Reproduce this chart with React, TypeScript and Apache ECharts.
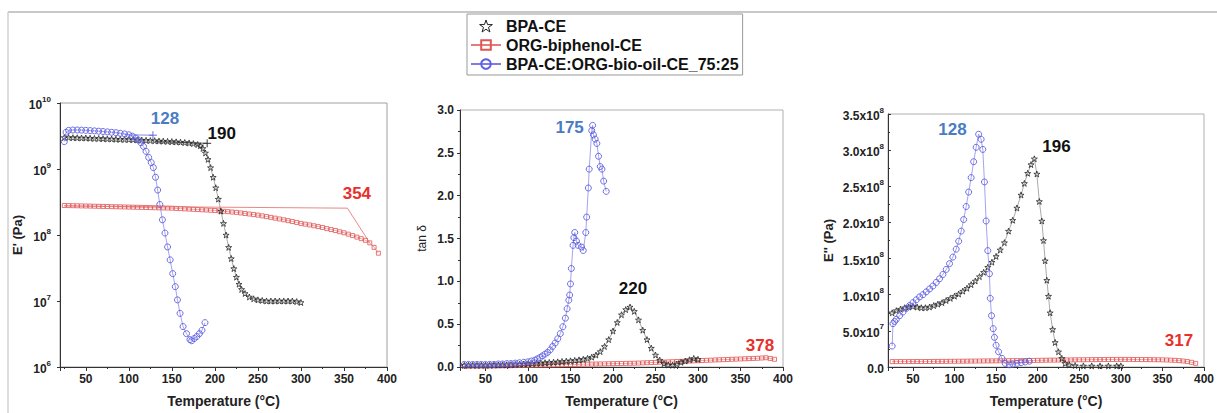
import React, { useEffect, useRef } from "react";
import * as echarts from "echarts";

// ---------- Panel 1: storage modulus E' (Pa), log scale ----------
const ep_bpa_T = [25,30,35,40,45,50,55,60,65,70,75,80,85,90,95,100,105,110,115,120,125,130,135,140,145,150,155,160,165,170,175,180,183,186,189,192,195,198,201,204,207,210,213,216,219,222,225,228,231,235,240,245,250,255,260,265,270,275,280,285,290,295,300];
const ep_bpa_V = [3.0e9,3.0e9,2.98e9,2.97e9,2.95e9,2.95e9,2.93e9,2.9e9,2.9e9,2.88e9,2.86e9,2.85e9,2.83e9,2.82e9,2.8e9,2.8e9,2.78e9,2.76e9,2.74e9,2.72e9,2.7e9,2.68e9,2.66e9,2.64e9,2.62e9,2.6e9,2.58e9,2.55e9,2.52e9,2.48e9,2.43e9,2.35e9,2.25e9,2.05e9,1.75e9,1.4e9,1.05e9,7.5e8,5.2e8,3.5e8,2.3e8,1.5e8,1.0e8,6.5e7,4.4e7,3.1e7,2.3e7,1.8e7,1.5e7,1.3e7,1.15e7,1.08e7,1.04e7,1.02e7,1.0e7,1.0e7,1.0e7,1.0e7,1.0e7,1.0e7,1.0e7,9.8e6,9.5e6];

const ep_org_T = [25,30,35,40,45,50,55,60,65,70,75,80,85,90,95,100,105,110,115,120,125,130,135,140,145,150,155,160,165,170,175,180,185,190,195,200,205,210,215,220,225,230,235,240,245,250,255,260,265,270,275,280,285,290,295,300,305,310,315,320,325,330,335,340,345,350,355,360,365,370,375,380,385,390];
const ep_org_V = [2.8e8,2.79e8,2.78e8,2.77e8,2.76e8,2.75e8,2.74e8,2.73e8,2.72e8,2.71e8,2.7e8,2.69e8,2.68e8,2.67e8,2.66e8,2.65e8,2.64e8,2.63e8,2.62e8,2.61e8,2.6e8,2.59e8,2.58e8,2.57e8,2.56e8,2.55e8,2.53e8,2.51e8,2.49e8,2.47e8,2.45e8,2.43e8,2.41e8,2.39e8,2.37e8,2.35e8,2.32e8,2.29e8,2.26e8,2.23e8,2.2e8,2.16e8,2.12e8,2.08e8,2.04e8,2.0e8,1.95e8,1.9e8,1.85e8,1.8e8,1.75e8,1.7e8,1.65e8,1.6e8,1.55e8,1.5e8,1.46e8,1.42e8,1.38e8,1.34e8,1.3e8,1.25e8,1.21e8,1.17e8,1.12e8,1.08e8,1.03e8,9.8e7,9.3e7,8.8e7,8.3e7,7.6e7,6.5e7,5.3e7];

const ep_mix_T = [25,27,30,35,40,45,50,55,60,65,70,75,80,85,90,95,100,104,108,111,114,117,120,123,126,128.5,131,133.5,136,139,142,145,148,151,154,156.5,159.5,163,167,171,173,176,179,182,185,188.5];
const ep_mix_V = [2.6e9,3.6e9,3.85e9,3.9e9,3.9e9,3.88e9,3.85e9,3.82e9,3.78e9,3.74e9,3.7e9,3.65e9,3.6e9,3.55e9,3.48e9,3.4e9,3.3e9,3.15e9,2.95e9,2.75e9,2.5e9,2.2e9,1.85e9,1.5e9,1.25e9,1.05e9,7.5e8,4.8e8,2.9e8,1.7e8,1.07e8,6.6e7,4.2e7,2.6e7,1.65e7,1.04e7,6.5e6,4.1e6,3.2e6,2.6e6,2.5e6,2.7e6,2.9e6,3.2e6,3.6e6,4.7e6];

// onset tangent constructions
const tan_org_T = [25, 354, 380];
const tan_org_V = [2.75e8, 2.55e8, 7.6e7];
const tan_bpa_T = [130, 191];
const tan_bpa_V = [2.6e9, 2.45e9];
const tan_mix_T = [95, 128];
const tan_mix_V = [3.3e9, 3.25e9];

// ---------- Panel 2: tan delta ----------
const td_bpa_T = [25,30,35,40,45,50,55,60,65,70,75,80,85,90,95,100,105,110,115,120,125,130,135,140,145,150,155,160,165,170,175,180,185,190,195,200,205,210,215,220,225,230,235,240,245,250,255,260,265,270,275,280,285,290,295,300];
const td_bpa_V = [0.02,0.02,0.02,0.02,0.02,0.02,0.02,0.022,0.024,0.025,0.026,0.028,0.03,0.032,0.035,0.038,0.04,0.043,0.046,0.05,0.053,0.056,0.06,0.064,0.068,0.072,0.077,0.083,0.09,0.1,0.115,0.14,0.18,0.24,0.32,0.42,0.52,0.61,0.67,0.7,0.65,0.55,0.43,0.32,0.22,0.14,0.08,0.04,0.025,0.02,0.035,0.055,0.07,0.085,0.1,0.09];

const td_org_T = [25,30,35,40,45,50,55,60,65,70,75,80,85,90,95,100,105,110,115,120,125,130,135,140,145,150,155,160,165,170,175,180,185,190,195,200,205,210,215,220,225,230,235,240,245,250,255,260,265,270,275,280,285,290,295,300,305,310,315,320,325,330,335,340,345,350,355,360,365,370,375,380,385,390];
const td_org_V = [0.01,0.01,0.011,0.01,0.011,0.012,0.012,0.013,0.013,0.014,0.015,0.015,0.016,0.017,0.018,0.019,0.02,0.021,0.022,0.023,0.024,0.025,0.026,0.027,0.028,0.029,0.03,0.031,0.032,0.033,0.034,0.035,0.036,0.037,0.038,0.039,0.04,0.041,0.042,0.043,0.044,0.046,0.048,0.05,0.052,0.054,0.056,0.058,0.06,0.062,0.064,0.066,0.068,0.07,0.072,0.074,0.076,0.078,0.08,0.082,0.084,0.086,0.088,0.09,0.092,0.094,0.096,0.098,0.1,0.102,0.105,0.108,0.1,0.09];

const td_mix_T = [25,30,35,40,45,50,55,60,65,70,75,80,85,90,95,100,104,108,111,114,117,120,123,126,129,132,135,138,141,144,146,148,149,150,151,153,154,155,157,159,163,165,168,169,171,172,175,176,177,179,181,183,185,187,189,192];
const td_mix_V = [0.03,0.03,0.03,0.03,0.03,0.03,0.03,0.03,0.035,0.035,0.04,0.04,0.045,0.05,0.055,0.06,0.07,0.08,0.095,0.11,0.13,0.15,0.17,0.2,0.24,0.28,0.33,0.39,0.47,0.57,0.68,0.78,0.84,0.97,1.15,1.42,1.51,1.57,1.47,1.42,1.4,1.36,1.57,1.75,2.09,2.31,2.76,2.82,2.71,2.66,2.61,2.46,2.34,2.31,2.17,2.05];

// ---------- Panel 3: loss modulus E'' (Pa) ----------
const el_bpa_T = [25,30,35,40,45,50,55,60,65,70,75,80,85,90,95,100,105,110,115,120,125,130,135,140,145,150,155,160,165,170,175,180,184,188,192,196,199,202,205,207,209,211,213,215,218,221,225,229,233,238,245,255,265,275,285,295,300];
const el_bpa_V = [7.5e7,7.8e7,8.0e7,8.2e7,8.3e7,8.4e7,8.3e7,8.2e7,8.2e7,8.3e7,8.5e7,8.7e7,8.9e7,9.2e7,9.5e7,9.8e7,1.01e8,1.05e8,1.09e8,1.14e8,1.19e8,1.25e8,1.31e8,1.38e8,1.45e8,1.53e8,1.62e8,1.72e8,1.88e8,2.03e8,2.2e8,2.38e8,2.54e8,2.68e8,2.8e8,2.88e8,2.67e8,2.29e8,2.02e8,1.75e8,1.47e8,1.2e8,9.8e7,7.5e7,5.2e7,3.4e7,2.1e7,1.2e7,5e6,3e6,2e6,1.5e6,1.5e6,1.5e6,1.5e6,1.5e6,1.5e6];

const el_org_T = [25,30,35,40,45,50,55,60,65,70,75,80,85,90,95,100,105,110,115,120,125,130,135,140,145,150,155,160,165,170,175,180,185,190,195,200,205,210,215,220,225,230,235,240,245,250,255,260,265,270,275,280,285,290,295,300,305,310,315,320,325,330,335,340,345,350,355,360,365,370,375,380,385,390];
const el_org_V = [7.5e6,7.4e6,7.5e6,7.4e6,7.5e6,7.5e6,7.6e6,7.5e6,7.6e6,7.6e6,7.7e6,7.7e6,7.8e6,7.8e6,7.9e6,7.9e6,8.0e6,8.0e6,8.1e6,8.2e6,8.2e6,8.3e6,8.4e6,8.4e6,8.5e6,8.5e6,8.6e6,8.6e6,8.7e6,8.8e6,8.8e6,8.9e6,9.0e6,9.0e6,9.1e6,9.2e6,9.3e6,9.4e6,9.5e6,9.5e6,9.6e6,9.7e6,9.8e6,9.8e6,9.9e6,1.0e7,1.0e7,1.01e7,1.02e7,1.02e7,1.03e7,1.03e7,1.04e7,1.04e7,1.05e7,1.05e7,1.05e7,1.05e7,1.04e7,1.04e7,1.03e7,1.03e7,1.02e7,1.01e7,1.0e7,9.9e6,9.7e6,9.5e6,9.2e6,8.8e6,8.3e6,7.5e6,6.5e6,5.0e6];

const el_mix_T = [25,26,28,30,34,38,42,46,50,54,58,62,66,70,74,78,82,86,90,94,98,102,105,108,111,114,117,120,123,126,129,132,134,136,138,140,142,143,144.5,146.5,148,150,153,157,161,166,170,175,180,185,190];
const el_mix_V = [2.9e7,6.0e7,6.3e7,6.6e7,7.1e7,7.6e7,8.1e7,8.5e7,8.9e7,9.3e7,9.7e7,1.0e8,1.04e8,1.08e8,1.12e8,1.17e8,1.22e8,1.28e8,1.35e8,1.43e8,1.52e8,1.63e8,1.74e8,1.88e8,2.04e8,2.22e8,2.42e8,2.62e8,2.84e8,3.04e8,3.22e8,3.15e8,3.01e8,2.56e8,2.02e8,1.61e8,1.29e8,9.5e7,7.1e7,5.3e7,4.1e7,3.0e7,2.1e7,1.2e7,5e6,3e6,4e6,5e6,6e6,7e6,8e6];

// ---------- Peak / onset annotations [text, T, value] ----------
const ep_labels_bpa = ["190", 208, 3.5e9];
const ep_labels_org = ["354", 365, 4.2e8];
const ep_labels_mix = ["128", 142, 5.9e9];
const td_labels_bpa = ["220", 223.5, 0.915];
const td_labels_org = ["378", 373, 0.255];
const td_labels_mix = ["175", 149, 2.8];
const el_labels_bpa = ["196", 222.6, 3.05e8];
const el_labels_org = ["317", 370, 3.66e7];
const el_labels_mix = ["128", 97.5, 3.28e8];

const seriesNames = ["BPA-CE", "ORG-biphenol-CE", "BPA-CE:ORG-bio-oil-CE_75:25"];
const xTickValues = [50, 100, 150, 200, 250, 300, 350, 400];

const FONT = "'Liberation Sans', Arial, Helvetica, sans-serif";
const STAR = "path://M50,2L61.8,36.2L97.6,36.2L68.6,57.4L79.4,91.6L50,70.6L20.6,91.6L31.4,57.4L2.4,36.2L38.2,36.2Z";
const PLUS = "path://M0,5L10,5M5,0L5,10";

const C_BLACK = "#262626";
const C_RED = "#e05656";
const C_BLUE = "#5e5ee0";
const A_BLACK = "#111111";
const A_RED = "#e8302a";
const A_BLUE = "#4a7cc4";

const zip = (T: number[], V: number[]) => T.map((t, i) => [t, V[i]]);

function styleFor(k: number) {
  if (k === 0)
    return {
      symbol: STAR,
      symbolSize: 6,
      itemStyle: { color: "rgba(255,255,255,0)", borderColor: C_BLACK, borderWidth: 0.8 },
      lineStyle: { color: "#555", width: 0.5 },
    };
  if (k === 1)
    return {
      symbol: "rect",
      symbolSize: 4,
      itemStyle: { color: "rgba(255,255,255,0)", borderColor: C_RED, borderWidth: 0.8 },
      lineStyle: { color: "#e87a7a", width: 0.7 },
    };
  return {
    symbol: "circle",
    symbolSize: 6,
    itemStyle: { color: "rgba(255,255,255,0)", borderColor: C_BLUE, borderWidth: 0.9 },
    lineStyle: { color: "#7c7ce8", width: 0.7 },
  };
}

function mark(label: any[], color: string) {
  return {
    silent: true,
    symbol: "circle",
    symbolSize: 1,
    itemStyle: { color: "rgba(0,0,0,0)" },
    label: {
      show: true,
      position: "inside",
      formatter: String(label[0]),
      color,
      fontSize: 17,
      fontWeight: "bold",
      fontFamily: FONT,
    },
    data: [{ coord: [label[1], label[2]] }],
  };
}

function dataSeries(panel: number, k: number, T: number[], V: number[], label: any[]) {
  const color = k === 0 ? A_BLACK : k === 1 ? A_RED : A_BLUE;
  return {
    name: seriesNames[k],
    type: "line",
    xAxisIndex: panel,
    yAxisIndex: panel,
    data: zip(T, V),
    showSymbol: true,
    z: k === 2 ? 4 : k === 0 ? 3 : 2,
    ...styleFor(k),
    markPoint: mark(label, color),
  };
}

function tangent(T: number[], V: number[], color: string, endPlus: boolean) {
  return {
    name: "tangent",
    type: "line",
    xAxisIndex: 0,
    yAxisIndex: 0,
    data: zip(T, V),
    symbol: (_v: any, p: any) => (endPlus && p.dataIndex === T.length - 1 ? PLUS : "none"),
    symbolSize: 8,
    itemStyle: { color: "rgba(0,0,0,0)", borderColor: color, borderWidth: 1 },
    lineStyle: { color, width: 0.8 },
    z: 5,
  };
}

const labelBase = { fontSize: 12, fontWeight: "bold", color: "#222", fontFamily: FONT };

function xAxis(gridIndex: number) {
  return {
    type: "value",
    gridIndex,
    min: 20,
    max: 400,
    splitNumber: 8,
    name: "Temperature (°C)",
    nameLocation: "middle",
    nameGap: 27,
    nameTextStyle: { fontSize: 14, fontWeight: "bold", color: "#222", fontFamily: FONT },
    axisLine: { lineStyle: { color: "#333", width: 1 } },
    axisTick: { show: true, length: 4, lineStyle: { color: "#333" } },
    minorTick: { show: true, splitNumber: 2, length: 2, lineStyle: { color: "#333" } },
    splitLine: { show: false },
    axisLabel: {
      ...labelBase,
      margin: 6,
      showMinLabel: false,
      formatter: (v: number) => (xTickValues.indexOf(v) >= 0 ? String(v) : ""),
    },
  };
}

const sci = (v: number) => {
  if (v === 0) return "{b|0.0}";
  const e = Math.floor(Math.log10(v) + 1e-9);
  const m = v / Math.pow(10, e);
  return `{b|${m.toFixed(1)}x10}{s|${e}}`;
};

const richSup = {
  b: { ...labelBase, lineHeight: 16, verticalAlign: "bottom" },
  s: { fontSize: 8, fontWeight: "bold", color: "#222", fontFamily: FONT, lineHeight: 16, verticalAlign: "top" },
};

export default function App() {
  const ref = useRef<HTMLDivElement>(null);

  useEffect(() => {
    if (!ref.current) return;
    const chart = echarts.init(ref.current, null, { renderer: "svg" });

    const option: any = {
      animation: false,
      backgroundColor: "#ffffff",
      textStyle: { fontFamily: FONT },
      legend: {
        orient: "vertical",
        left: 467,
        top: 14,
        padding: [4, 4, 3, 3],
        itemGap: 3,
        itemWidth: 30,
        itemHeight: 12,
        borderColor: "#999",
        borderWidth: 1,
        textStyle: { fontSize: 16, fontWeight: "bold", color: "#111", fontFamily: FONT },
        data: [
          {
            name: seriesNames[0],
            icon: STAR,
            lineStyle: { opacity: 0 },
            itemStyle: { color: "rgba(255,255,255,0)", borderColor: "#222", borderWidth: 1 },
          },
          { name: seriesNames[1] },
          { name: seriesNames[2] },
        ],
      },
      grid: [
        { left: 60, top: 103, width: 327, height: 264, show: true, borderColor: "#a0a0a0", borderWidth: 1 },
        { left: 460, top: 110, width: 323, height: 259, show: true, borderColor: "#b0b0b0", borderWidth: 1 },
        { left: 888, top: 114, width: 319, height: 258, show: true, borderColor: "#b0b0b0", borderWidth: 1 },
      ],
      xAxis: [xAxis(0), xAxis(1), xAxis(2)],
      yAxis: [
        {
          type: "log",
          gridIndex: 0,
          logBase: 10,
          min: 1e6,
          max: 1e10,
          interval: 1,
          name: "E' (Pa)",
          nameLocation: "middle",
          nameGap: 36,
          nameTextStyle: { fontSize: 13, fontWeight: "bold", color: "#222", fontFamily: FONT },
          axisLine: { show: true, lineStyle: { color: "#333" } },
          axisTick: { show: true, length: 3, lineStyle: { color: "#333" } },
          splitLine: { show: false },
          axisLabel: {
            margin: 9,
            formatter: (v: number) => `{b|10}{s|${Math.round(Math.log10(v))}}`,
            rich: richSup,
          },
        },
        {
          type: "value",
          gridIndex: 1,
          min: 0,
          max: 3,
          interval: 0.5,
          name: "tan δ",
          nameLocation: "middle",
          nameGap: 32,
          nameTextStyle: { fontSize: 12, color: "#222", fontFamily: FONT },
          axisLine: { show: true, lineStyle: { color: "#333" } },
          axisTick: { show: true, length: 3, lineStyle: { color: "#333" } },
          minorTick: { show: true, splitNumber: 2, length: 2, lineStyle: { color: "#333" } },
          splitLine: { show: false },
          axisLabel: { ...labelBase, margin: 6, formatter: (v: number) => v.toFixed(1) },
        },
        {
          type: "value",
          gridIndex: 2,
          min: 0,
          max: 3.5e8,
          interval: 5e7,
          name: "E'' (Pa)",
          nameLocation: "middle",
          nameGap: 53,
          nameTextStyle: { fontSize: 13, fontWeight: "bold", color: "#222", fontFamily: FONT },
          axisLine: { show: true, lineStyle: { color: "#333" } },
          axisTick: { show: true, inside: true, length: 3, lineStyle: { color: "#333" } },
          minorTick: { show: true, splitNumber: 2, length: 2, lineStyle: { color: "#333" } },
          splitLine: { show: false },
          axisLabel: { margin: 4, formatter: sci, rich: richSup },
        },
      ],
      graphic: [
        { type: "line", shape: { x1: 8, y1: 12, x2: 1217, y2: 12 }, style: { stroke: "#c8c8c8", lineWidth: 2 }, silent: true },
        { type: "line", shape: { x1: 8, y1: 12, x2: 8, y2: 413 }, style: { stroke: "#d0d0d0", lineWidth: 1.5 }, silent: true },
      ],
      series: [
        dataSeries(0, 1, ep_org_T, ep_org_V, ep_labels_org),
        dataSeries(0, 0, ep_bpa_T, ep_bpa_V, ep_labels_bpa),
        dataSeries(0, 2, ep_mix_T, ep_mix_V, ep_labels_mix),
        tangent(tan_org_T, tan_org_V, "#e26a6a", false),
        tangent(tan_bpa_T, tan_bpa_V, "#333", true),
        tangent(tan_mix_T, tan_mix_V, "#6a6ae0", true),
        dataSeries(1, 1, td_org_T, td_org_V, td_labels_org),
        dataSeries(1, 0, td_bpa_T, td_bpa_V, td_labels_bpa),
        dataSeries(1, 2, td_mix_T, td_mix_V, td_labels_mix),
        dataSeries(2, 1, el_org_T, el_org_V, el_labels_org),
        dataSeries(2, 0, el_bpa_T, el_bpa_V, el_labels_bpa),
        dataSeries(2, 2, el_mix_T, el_mix_V, el_labels_mix),
      ],
    };

    chart.setOption(option);
    return () => chart.dispose();
  }, []);

  return (
    <div
      ref={ref}
      style={{ position: "absolute", left: 0, top: 0, width: 1217, height: 413, background: "#fff" }}
    />
  );
}
